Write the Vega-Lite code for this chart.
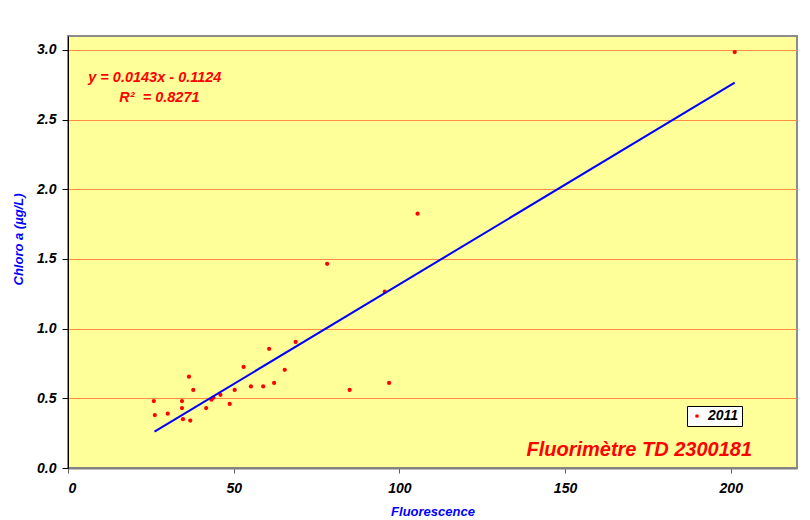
{
  "$schema": "https://vega.github.io/schema/vega-lite/v6.json",
  "width": 729,
  "height": 432,
  "autosize": {"type": "none"},
  "padding": {"left": 68, "top": 36, "right": 13, "bottom": 52},
  "background": "white",
  "config": {
    "font": "Liberation Sans",
    "view": {"fill": "#FFFF99", "stroke": "#8c8c8c", "strokeWidth": 2},
    "axis": {
      "labelFont": "Liberation Sans",
      "labelFontWeight": "bold",
      "labelFontStyle": "italic",
      "labelFontSize": 14,
      "labelColor": "black",
      "titleFont": "Liberation Sans",
      "titleFontWeight": "bold",
      "titleFontStyle": "italic",
      "titleFontSize": 13,
      "titleColor": "#0000FF"
    }
  },
  "datasets": {
    "points": [
      {"fluo": 25.9, "chl": 0.48, "year": "2011"},
      {"fluo": 26.2, "chl": 0.38, "year": "2011"},
      {"fluo": 30.1, "chl": 0.39, "year": "2011"},
      {"fluo": 34.4, "chl": 0.48, "year": "2011"},
      {"fluo": 34.4, "chl": 0.43, "year": "2011"},
      {"fluo": 34.7, "chl": 0.35, "year": "2011"},
      {"fluo": 36.5, "chl": 0.655, "year": "2011"},
      {"fluo": 36.9, "chl": 0.34, "year": "2011"},
      {"fluo": 37.8, "chl": 0.56, "year": "2011"},
      {"fluo": 41.7, "chl": 0.43, "year": "2011"},
      {"fluo": 43.3, "chl": 0.49, "year": "2011"},
      {"fluo": 43.9, "chl": 0.505, "year": "2011"},
      {"fluo": 46.0, "chl": 0.525, "year": "2011"},
      {"fluo": 48.8, "chl": 0.46, "year": "2011"},
      {"fluo": 50.3, "chl": 0.56, "year": "2011"},
      {"fluo": 53.0, "chl": 0.725, "year": "2011"},
      {"fluo": 55.2, "chl": 0.585, "year": "2011"},
      {"fluo": 58.9, "chl": 0.585, "year": "2011"},
      {"fluo": 60.7, "chl": 0.855, "year": "2011"},
      {"fluo": 62.2, "chl": 0.61, "year": "2011"},
      {"fluo": 65.4, "chl": 0.705, "year": "2011"},
      {"fluo": 68.7, "chl": 0.905, "year": "2011"},
      {"fluo": 78.2, "chl": 1.465, "year": "2011"},
      {"fluo": 85.0, "chl": 0.56, "year": "2011"},
      {"fluo": 95.6, "chl": 1.265, "year": "2011"},
      {"fluo": 96.9, "chl": 0.61, "year": "2011"},
      {"fluo": 105.5, "chl": 1.825, "year": "2011"},
      {"fluo": 201.2, "chl": 2.985, "year": "2011"}
    ],
    "fit": [
      {"fluo": 26.1, "chl": 0.261},
      {"fluo": 201.2, "chl": 2.765}
    ],
    "labels": [
      {"fluo": 26.2, "chl": 2.8, "txt": "y = 0.0143x - 0.1124", "kind": "eq"},
      {"fluo": 27.6, "chl": 2.655, "txt": "R² \u00a0= 0.8271", "kind": "eq"},
      {"fluo": 172.4, "chl": 0.129, "txt": "Fluorimètre TD 2300181", "kind": "big"}
    ]
  },
  "encoding": {
    "x": {
      "field": "fluo", "type": "quantitative",
      "scale": {"domain": [0, 220], "nice": false},
      "axis": {
        "title": "Fluorescence",
        "values": [0, 50, 100, 150, 200],
        "grid": false,
        "domainColor": "#808080",
        "domainWidth": 2,
        "tickColor": "#606060",
        "tickSize": 5,
        "labelPadding": 8,
        "titlePadding": 10
      }
    },
    "y": {
      "field": "chl", "type": "quantitative",
      "scale": {"domain": [0, 3.1], "nice": false},
      "axis": {
        "title": "Chloro a (µg/L)",
        "values": [0, 0.5, 1, 1.5, 2, 2.5, 3],
        "format": ".1f",
        "grid": true,
        "gridColor": "#FF8C40",
        "gridWidth": 1,
        "domainColor": "black",
        "domainWidth": 1,
        "tickColor": "black",
        "tickSize": 6,
        "labelPadding": 6,
        "titlePadding": 11,
        "titleY": 203
      }
    }
  },
  "layer": [
    {
      "data": {"name": "points"},
      "mark": {"type": "point", "filled": true, "shape": "circle", "size": 18, "opacity": 1},
      "encoding": {
        "color": {
          "field": "year", "type": "nominal",
          "scale": {"range": ["#FF0000"]},
          "legend": {
            "title": null,
            "orient": "none",
            "legendX": 619,
            "legendY": 370,
            "fillColor": "white",
            "strokeColor": "black",
            "padding": 3,
            "symbolSize": 14,
            "symbolType": "circle",
            "labelFont": "Liberation Sans",
            "labelFontWeight": "bold",
            "labelFontStyle": "italic",
            "labelFontSize": 14,
            "labelColor": "black"
          }
        }
      }
    },
    {
      "data": {"name": "fit"},
      "mark": {"type": "line", "color": "#0000FF", "strokeWidth": 2}
    },
    {
      "data": {"name": "labels"},
      "transform": [{"filter": "datum.kind == 'eq'"}],
      "mark": {"type": "text", "font": "Liberation Sans", "fontWeight": "bold", "fontStyle": "italic", "fontSize": 14.5, "color": "#FF0000", "align": "center", "baseline": "middle"},
      "encoding": {"text": {"field": "txt"}}
    },
    {
      "data": {"name": "labels"},
      "transform": [{"filter": "datum.kind == 'big'"}],
      "mark": {"type": "text", "font": "Liberation Sans", "fontWeight": "bold", "fontStyle": "italic", "fontSize": 20, "color": "#FF0000", "align": "center", "baseline": "middle"},
      "encoding": {"text": {"field": "txt"}}
    }
  ]
}
